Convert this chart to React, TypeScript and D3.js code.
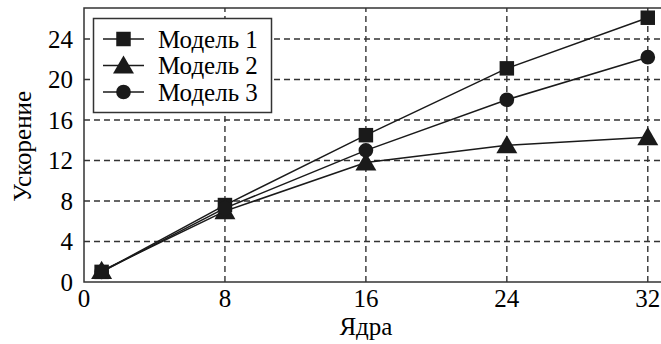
import React from "react";
import * as d3 from "d3";

const cores = [1, 8, 16, 24, 32];
const model1 = [1.0, 7.6, 14.5, 21.1, 26.1];
const model2 = [1.1, 7.0, 11.8, 13.5, 14.3];
const model3 = [1.0, 7.3, 13.0, 18.0, 22.2];
const seriesNames = ["Модель 1", "Модель 2", "Модель 3"];
const xTicks = [0, 8, 16, 24, 32];
const yTicks = [0, 4, 8, 12, 16, 20, 24];

const width = 661;
const height = 344;
const margin = { left: 84, top: 8, right: 0, bottom: 62 };
const ink = "#1a1a1a";
const serif = "Liberation Serif";

const App = () => {
  const x = d3.scaleLinear().domain([0, 32.75]).range([margin.left, width - margin.right]);
  const y = d3.scaleLinear().domain([0, 27.06]).range([height - margin.bottom, margin.top]);

  const symbols = [d3.symbolSquare, d3.symbolTriangle, d3.symbolCircle];
  const sizes = [210, 190, 170];
  const allSeries = [model1, model2, model3];
  const line = d3
    .line<number>()
    .x((_, i) => x(cores[i]))
    .y((d) => y(d));
  const sym = (si: number) => d3.symbol().type(symbols[si]).size(sizes[si])() || "";

  return (
    <div style={{ position: "absolute", left: 0, top: 0, width, height, background: "white" }}>
      {/* graphics layer */}
      <svg width={width} height={height} style={{ position: "absolute", left: 0, top: 0 }}>
        {xTicks.slice(1).map((t) => (
          <line
            key={"gx" + t}
            x1={x(t)}
            x2={x(t)}
            y1={y(0)}
            y2={margin.top}
            stroke="#333"
            strokeWidth={1.4}
            strokeDasharray="6,4"
          />
        ))}
        {yTicks.slice(1).map((t) => (
          <line
            key={"gy" + t}
            x1={x(0)}
            x2={width}
            y1={y(t)}
            y2={y(t)}
            stroke="#333"
            strokeWidth={1.4}
            strokeDasharray="6,4"
          />
        ))}
        <path
          d={`M${width},${margin.top}H${x(0)}V${y(0)}H${width}`}
          fill="none"
          stroke="#333"
          strokeWidth={1.5}
        />
        {allSeries.map((vals, si) => (
          <path key={"l" + si} d={line(vals) || ""} fill="none" stroke={ink} strokeWidth={1.5} />
        ))}
        {allSeries.map((vals, si) =>
          vals.map((v, i) => (
            <path
              key={`m${si}-${i}`}
              transform={`translate(${x(cores[i])},${y(v) + (si === 1 ? 2 : 0)})`}
              d={sym(si)}
              fill={ink}
            />
          ))
        )}
        <rect x={93.5} y={18.5} width={178} height={94} fill="white" stroke="#333" strokeWidth={1.5} />
        {seriesNames.map((name, i) => {
          const cy = 39 + i * 26.5;
          return (
            <g key={name}>
              <line x1={103} x2={144} y1={cy} y2={cy} stroke={ink} strokeWidth={1.5} />
              <path transform={`translate(123.5,${cy + (i === 1 ? 2 : 0)})`} d={sym(i)} fill={ink} />
            </g>
          );
        })}
      </svg>

      {/* text layer */}
      <svg width={width} height={height} style={{ position: "absolute", left: 0, top: 0 }}>
        {xTicks.map((t) => (
          <text key={"tx" + t} x={x(t)} y={y(0) + 25} textAnchor="middle" fontSize={25} style={{ fontFamily: serif }}>
            {t}
          </text>
        ))}
        {yTicks.map((t) => (
          <text key={"ty" + t} x={x(0) - 11} y={y(t) + 9} textAnchor="end" fontSize={25} style={{ fontFamily: serif }}>
            {t}
          </text>
        ))}
        <text x={x(16)} y={335} textAnchor="middle" fontSize={25} style={{ fontFamily: serif }}>
          Ядра
        </text>
        <text
          transform={`translate(31,${y(13.4)}) rotate(-90)`}
          textAnchor="middle"
          fontSize={25}
          style={{ fontFamily: serif }}
        >
          Ускорение
        </text>
        {seriesNames.map((name, i) => (
          <text key={name} x={158} y={39 + i * 26.5 + 8.5} fontSize={25} style={{ fontFamily: serif }}>
            {name}
          </text>
        ))}
      </svg>
    </div>
  );
};

export default App;
